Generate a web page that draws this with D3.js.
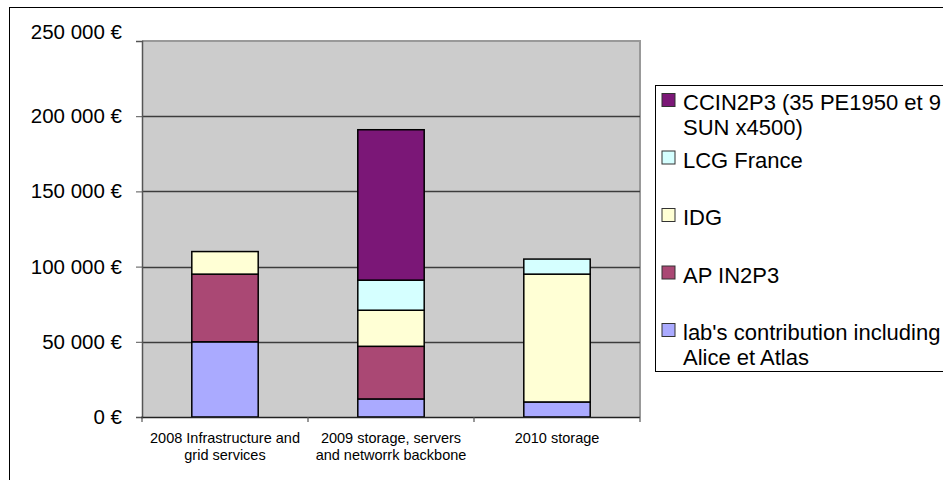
<!DOCTYPE html>
<html><head><meta charset="utf-8">
<script src="https://cdn.jsdelivr.net/npm/d3@7"></script>
<style>html,body{margin:0;padding:0;background:#fff;}svg{display:block;font-family:"Liberation Sans",Arial,sans-serif;}</style>
</head><body>
<svg id="c" width="943" height="480"></svg>
<script>
const categories = [
  ["2008 Infrastructure and", "grid services"],
  ["2009 storage, servers", "and networrk backbone"],
  ["2010 storage"]
];
const seriesNames = ["lab's contribution including|Alice et Atlas", "AP IN2P3", "IDG", "LCG France", "CCIN2P3 (35 PE1950 et 9|SUN x4500)"];
const labValues  = [50000, 12000, 10000];
const apValues   = [45000, 35000, 0];
const idgValues  = [15000, 24000, 85000];
const lcgValues  = [0, 20000, 10000];
const ccinValues = [0, 100000, 0];
const colors = ["#aaaaff", "#aa4874", "#ffffd5", "#d5ffff", "#7b1777"];
const yTicks = [0, 50000, 100000, 150000, 200000, 250000];

const svg = d3.select("#c");
// outer frame
svg.append("rect").attr("x", 9.5).attr("y", 7.5).attr("width", 1000).attr("height", 1000)
  .attr("fill", "#fff").attr("stroke", "#000").attr("stroke-width", 1);

const L = 142, R = 640, T = 41, B = 417;
const keys = ["lab", "ap", "idg", "lcg", "ccin"];
const vals = [labValues, apValues, idgValues, lcgValues, ccinValues];
const table = categories.map((c, i) => {
  const o = {cat: i};
  keys.forEach((k, j) => o[k] = vals[j][i]);
  return o;
});
const stack = d3.stack().keys(keys)(table);

const x = d3.scaleBand().domain(d3.range(categories.length)).range([L, R]).paddingInner(0.6).paddingOuter(0.3);
const y = d3.scaleLinear().domain([0, 250000]).range([B, T]);

// plot background
svg.append("rect").attr("x", L).attr("y", T).attr("width", R - L).attr("height", B - T).attr("fill", "#cccccc");
// top/right border
svg.append("path").attr("d", `M${L},${T}H${R}V${B}`).attr("fill", "none").attr("stroke", "#999").attr("stroke-width", 2);

// gridlines
svg.append("g").selectAll("line").data(yTicks.filter(t => t > 0 && t < 250000)).join("line")
  .attr("x1", L).attr("x2", R).attr("y1", d => Math.round(y(d)) + 0.5).attr("y2", d => Math.round(y(d)) + 0.5)
  .attr("stroke", "#3c3c3c").attr("stroke-width", 1.3);

// bars
svg.append("g").selectAll("g").data(stack).join("g")
  .attr("fill", (d, i) => colors[i])
  .selectAll("rect").data(d => d.filter(s => s[1] - s[0] > 0)).join("rect")
  .attr("x", d => x(d.data.cat)).attr("width", x.bandwidth())
  .attr("y", d => y(d[1])).attr("height", d => y(d[0]) - y(d[1]))
  .attr("stroke", "#000").attr("stroke-width", 1.5);

// y axis
const yAxis = d3.axisLeft(y).tickValues(yTicks).tickSize(6).tickPadding(14)
  .tickFormat(d => (d === 0 ? "0" : d3.format(",")(d).replace(/,/g, " ")) + " €");
const ya = svg.append("g").attr("transform", `translate(${L},0)`).call(yAxis);
ya.select(".domain").attr("stroke", "#555").attr("stroke-width", 1.5);
ya.selectAll(".tick line").attr("stroke", "#555");
ya.selectAll(".tick text").attr("font-size", 20.5).attr("fill", "#000")
  .attr("font-family", "Liberation Sans, Arial, sans-serif");
ya.selectAll(".tick").filter(d => d === 250000).select("text").attr("dy", "-0.1em");

// x axis line and ticks
svg.append("line").attr("x1", L - 1).attr("x2", R).attr("y1", B + 0.5).attr("y2", B + 0.5).attr("stroke", "#222").attr("stroke-width", 1.5);
const step = x.step();
const bounds = d3.range(categories.length + 1).map(i => L + i * step);
svg.append("g").selectAll("line").data(bounds).join("line")
  .attr("x1", d => d).attr("x2", d => d).attr("y1", B).attr("y2", B + 5).attr("stroke", "#555").attr("stroke-width", 1.2);

// category labels
const cl = svg.append("g").selectAll("text").data(categories).join("text")
  .attr("x", (d, i) => x(i) + x.bandwidth() / 2).attr("y", 443)
  .attr("text-anchor", "middle").attr("font-size", 14.5).attr("fill", "#000");
cl.selectAll("tspan").data(d => d).join("tspan")
  .attr("x", function () { return this.parentNode.getAttribute("x"); })
  .attr("dy", (d, i) => i === 0 ? 0 : 16.5).text(d => d);

// legend
svg.append("rect").attr("x", 655.5).attr("y", 85.5).attr("width", 400).attr("height", 286)
  .attr("fill", "#fff").attr("stroke", "#000").attr("stroke-width", 1);
const legendOrder = d3.range(seriesNames.length).reverse();
const lg = svg.append("g").selectAll("g").data(legendOrder).join("g")
  .attr("transform", (d, i) => `translate(662,${110 + i * 57.5})`);
lg.append("rect").attr("x", 0).attr("y", -16.5).attr("width", 13).attr("height", 13)
  .attr("fill", d => colors[d]).attr("stroke", "#333").attr("stroke-width", 1);
const lt = lg.append("text").attr("x", 21).attr("y", 0).attr("font-size", 22).attr("fill", "#000");
lt.selectAll("tspan").data(d => seriesNames[d].split("|")).join("tspan")
  .attr("x", 21).attr("dy", (d, i) => i === 0 ? 0 : 25).text(d => d);
</script>
</body></html>
